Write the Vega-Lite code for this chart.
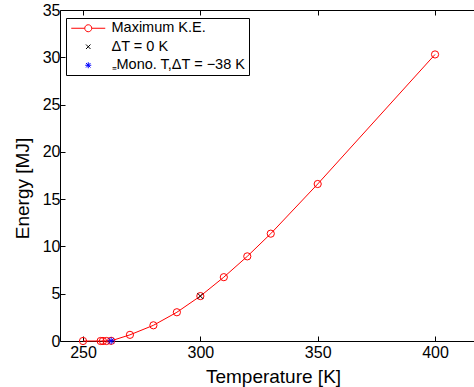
{
  "$schema": "https://vega.github.io/schema/vega-lite/v6.json",
  "width": 414,
  "height": 331,
  "autosize": {"type": "none"},
  "padding": {"left": 60, "top": 10, "right": 0, "bottom": 46},
  "background": "white",
  "config": {
    "font": "Liberation Sans",
    "view": {"stroke": null},
    "axis": {
      "domainColor": "black", "domainWidth": 1, "tickColor": "black", "tickWidth": 1,
      "labelColor": "black", "titleColor": "black", "labelFontSize": 16, "titleFontSize": 19,
      "titleFontWeight": "normal", "grid": false, "tickSize": -5
    }
  },
  "data": {
    "values": [
      {"T": 250, "E": 0, "series": "Maximum K.E."},
      {"T": 257.5, "E": 0, "series": "Maximum K.E."},
      {"T": 258.5, "E": 0, "series": "Maximum K.E."},
      {"T": 260, "E": 0, "series": "Maximum K.E."},
      {"T": 262, "E": 0.02, "series": "Maximum K.E."},
      {"T": 270, "E": 0.65, "series": "Maximum K.E."},
      {"T": 280, "E": 1.66, "series": "Maximum K.E."},
      {"T": 290, "E": 3.04, "series": "Maximum K.E."},
      {"T": 300, "E": 4.75, "series": "Maximum K.E."},
      {"T": 310, "E": 6.75, "series": "Maximum K.E."},
      {"T": 320, "E": 8.95, "series": "Maximum K.E."},
      {"T": 330, "E": 11.35, "series": "Maximum K.E."},
      {"T": 350, "E": 16.6, "series": "Maximum K.E."},
      {"T": 400, "E": 30.3, "series": "Maximum K.E."},
      {"T": 300, "E": 4.75, "series": "ΔT = 0 K"},
      {"T": 262, "E": 0.02, "series": "₌Mono. T,ΔT = −38 K"}
    ]
  },
  "resolve": {"axis": {"x": "independent"}},
  "encoding": {
    "x": {
      "field": "T", "type": "quantitative",
      "scale": {"domain": [240.2, 416.6], "nice": false, "zero": false},
      "axis": {"values": [250, 300, 350, 400], "title": "Temperature [K]", "labelPadding": 8,
               "titleX": 213, "titleY": 41, "titleBaseline": "alphabetic", "titleAnchor": null}
    },
    "y": {
      "field": "E", "type": "quantitative",
      "scale": {"domain": [0, 35], "nice": false},
      "axis": {"values": [0, 5, 10, 15, 20, 25, 30, 35], "title": "Energy [MJ]", "labelPadding": 5,
               "titleX": -38, "titleY": 178, "titleBaseline": "middle", "titleAlign": "center", "titleAngle": -90}
    },
    "color": {
      "field": "series", "type": "nominal",
      "scale": {"domain": ["Maximum K.E.", "ΔT = 0 K", "₌Mono. T,ΔT = −38 K"], "range": ["#ff0000", "black", "blue"]},
      "legend": {
        "title": null, "orient": "none", "legendX": 6, "legendY": 8,
        "strokeColor": "black", "fillColor": "white", "padding": 3,
        "labelFontSize": 14.5, "labelColor": "black", "labelLimit": 300,
        "symbolSize": 100, "symbolOffset": 12, "labelOffset": 16, "rowPadding": 3.5,
        "symbolStrokeWidth": 1, "symbolFillColor": "transparent",
        "encode": {
          "symbols": {
            "update": {
              "shape": {"signal": "datum.value === 'Maximum K.E.' ? 'M-3.4,0L-0.7,0M0.7,0L3.4,0M-0.7,0A0.7,0.7 0 1,0 0.7,0A0.7,0.7 0 1,0 -0.7,0' : datum.value === 'ΔT = 0 K' ? 'M-0.45,-0.45L0.45,0.45M-0.45,0.45L0.45,-0.45' : 'M-0.6,0L0.6,0M0,-0.6L0,0.6M-0.45,-0.45L0.45,0.45M-0.45,0.45L0.45,-0.45'"},
              "fill": {"value": "transparent"}
            }
          }
        }
      }
    }
  },
  "layer": [
    {
      "transform": [{"filter": "datum.series === 'Maximum K.E.'"}],
      "mark": {"type": "line", "strokeWidth": 1}
    },
    {
      "transform": [{"filter": "datum.series === 'Maximum K.E.'"}],
      "mark": {"type": "point", "shape": "circle", "filled": false, "size": 52, "strokeWidth": 1, "opacity": 1},
      "encoding": {"x": {"field": "T", "type": "quantitative", "axis": null}}
    },
    {
      "transform": [{"filter": "datum.series === 'ΔT = 0 K'"}],
      "mark": {"type": "point", "shape": "M-0.8,-0.8L0.8,0.8M-0.8,0.8L0.8,-0.8", "filled": false, "size": 52, "strokeWidth": 1, "opacity": 1},
      "encoding": {"x": {"field": "T", "type": "quantitative", "axis": null}}
    },
    {
      "transform": [{"filter": "datum.series === '₌Mono. T,ΔT = −38 K'"}],
      "mark": {"type": "point", "shape": "M-1,0L1,0M0,-1L0,1M-0.75,-0.75L0.75,0.75M-0.75,0.75L0.75,-0.75", "filled": false, "size": 52, "strokeWidth": 1, "opacity": 1},
      "encoding": {"x": {"field": "T", "type": "quantitative", "axis": null}}
    },
    {
      "mark": {"type": "point", "opacity": 0},
      "encoding": {
        "x": {"field": "T", "type": "quantitative",
              "axis": {"orient": "top", "values": [250, 300, 350, 400], "labels": false, "title": null}},
        "color": {"value": "white"}
      }
    }
  ]
}
